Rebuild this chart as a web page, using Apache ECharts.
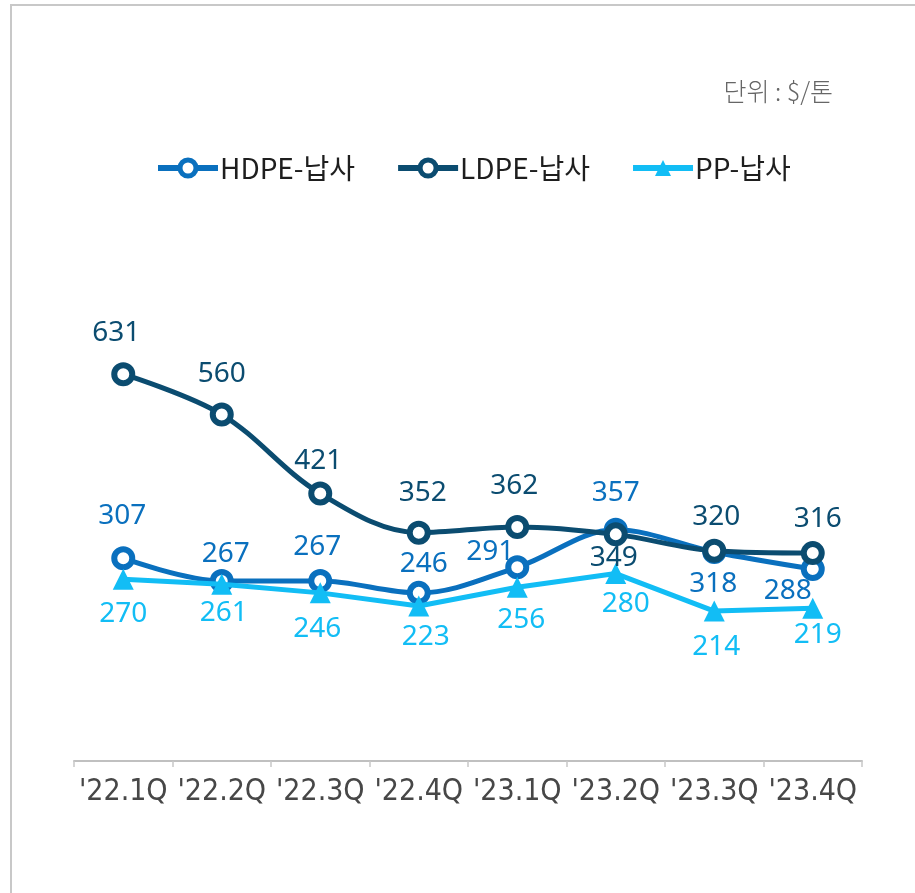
<!DOCTYPE html>
<html>
<head>
<meta charset="utf-8">
<script src="https://cdn.jsdelivr.net/npm/echarts@6/dist/echarts.min.js"></script>
<style>
  html, body { margin: 0; padding: 0; background: #fff; }
  #frame { position: absolute; left: 10px; top: 4px; width: 920px; height: 900px;
           border-left: 2px solid #c8c8c8; border-top: 2px solid #c8c8c8; }
  #chart { position: absolute; left: 0; top: 0; width: 915px; height: 893px; }
</style>
</head>
<body>
<div id="frame"></div>
<div id="chart"></div>
<script>
// 분기별 스프레드 ($/톤)
const quarters = ["'22.1Q", "'22.2Q", "'22.3Q", "'22.4Q", "'23.1Q", "'23.2Q", "'23.3Q", "'23.4Q"];
const hdpe = [307, 267, 267, 246, 291, 357, 318, 288];
const ldpe = [631, 560, 421, 352, 362, 349, 320, 316];
const pp = [270, 261, 246, 223, 256, 280, 214, 219];

// label nudges [dx, dy] from each point (layout only)
const hdpeLabelShift = [[-1, -45], [4, -30], [-3, -37], [5, -32], [-27, -18], [0, -40], [-1, 29], [-25, 19]];
const ldpeLabelShift = [[-7, -44], [0, -43], [-2, -35], [4, -43], [-3, -44], [-2, 21], [2, -37], [5, -37]];
const ppLabelShift = [[0, 32], [2, 26], [-3, 33], [7, 28], [4, 30], [10, 27], [2, 33], [5, 24]];

const C_HDPE = '#0a70be', C_LDPE = '#0b4c70', C_PP = '#12bdf5';

function lineSeries(name, values, shifts, color, ring, z) {
  return {
    name: name,
    type: 'line',
    z: z,
    data: values,
    smooth: ring ? 0.35 : false,
    symbol: ring ? 'circle' : 'triangle',
    symbolSize: ring ? 18 : 21,
    showAllSymbol: true,
    lineStyle: { color: color, width: 5 },
    itemStyle: ring ? { color: '#fff', borderColor: color, borderWidth: 6 } : { color: color, borderWidth: 0 },
    label: {
      show: true, position: 'inside',
      color: color, fontFamily: 'Noto Sans', fontSize: 28,
      align: 'center', verticalAlign: 'middle'
    },
    // +3 keeps the glyphs visually centred on the measured spots
    labelLayout: (p) => ({ dx: shifts[p.dataIndex][0], dy: shifts[p.dataIndex][1] + 3, hideOverlap: false }),
    emphasis: { disabled: true }
  };
}

const chart = echarts.init(document.getElementById('chart'));
chart.setOption({
  animation: false,
  backgroundColor: 'transparent',
  graphic: [{
    type: 'text', right: 82, top: 79,
    style: { text: '단위 : $/톤', fill: '#666', font: '300 25px "Noto Sans CJK KR"' }
  }],
  legend: {
    data: [
      { name: 'HDPE-납사', itemStyle: { borderWidth: 5 } },
      { name: 'LDPE-납사', itemStyle: { borderWidth: 5 } },
      { name: 'PP-납사' }
    ],
    left: 150, top: 149,
    itemWidth: 60, itemHeight: 20, itemGap: 40,
    lineStyle: { width: 6 },
    textStyle: { color: '#1e1e1e', fontFamily: 'Noto Sans CJK KR', fontSize: 28, padding: [0, 0, 0, -3] }
  },
  grid: { left: 74, right: 53, top: 335, bottom: 132 },
  xAxis: {
    type: 'category', data: quarters, boundaryGap: true,
    axisLine: { onZero: false, lineStyle: { color: '#c0c0c0', width: 2 } },
    axisTick: { show: true, length: 6, lineStyle: { color: '#c8c8c8', width: 1.5 } },
    axisLabel: {
      color: '#474747', fontFamily: "'DejaVu Sans Condensed', 'Roboto Condensed', Roboto, sans-serif",
      fontWeight: 200, fontSize: 30, margin: 16, interval: 0
    }
  },
  yAxis: {
    type: 'value', min: -50, max: 700,
    show: false, splitLine: { show: false }
  },
  series: [
    lineSeries('HDPE-납사', hdpe, hdpeLabelShift, C_HDPE, true, 2),
    lineSeries('PP-납사', pp, ppLabelShift, C_PP, false, 3),
    lineSeries('LDPE-납사', ldpe, ldpeLabelShift, C_LDPE, true, 4)
  ]
});
</script>
</body>
</html>
